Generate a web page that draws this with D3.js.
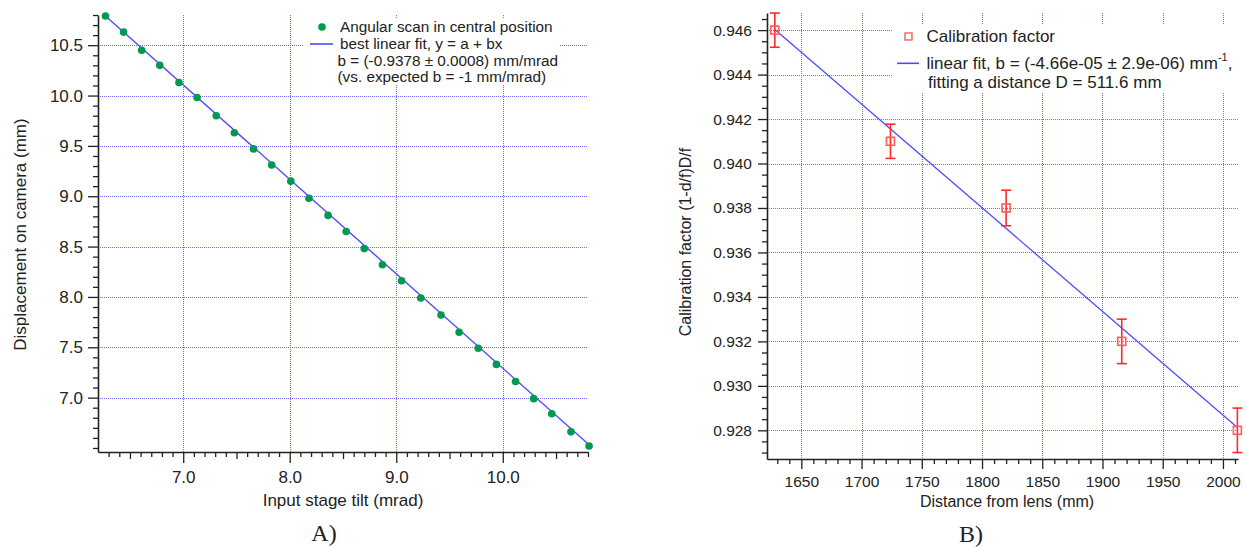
<!DOCTYPE html>
<html>
<head>
<meta charset="utf-8">
<script src="https://cdn.jsdelivr.net/npm/d3@7"></script>
<style>
  html, body { margin: 0; padding: 0; background: #fff; }
  svg { display: block; }
  text { font-family: "Liberation Sans", Arial, Helvetica, sans-serif; fill: #222; }
</style>
</head>
<body>
<svg id="chart" width="1246" height="548"></svg>
<script>
// ---------- Data: panel A ----------
const tiltX = [6.27, 6.44, 6.61, 6.78, 6.96, 7.13, 7.31, 7.48, 7.66, 7.83, 8.01, 8.18, 8.36, 8.53,
               8.70, 8.87, 9.05, 9.23, 9.42, 9.59, 9.77, 9.94, 10.12, 10.29, 10.46, 10.64, 10.81];
const displY = [10.79, 10.63, 10.45, 10.30, 10.13, 9.98, 9.80, 9.63, 9.47, 9.31, 9.15, 8.98, 8.81, 8.65,
                8.48, 8.32, 8.16, 7.99, 7.82, 7.65, 7.49, 7.33, 7.16, 6.99, 6.84, 6.66, 6.52];
const fitAa = 16.67, fitAb = -0.9378;
const aXTicks = [7.0, 8.0, 9.0, 10.0];
const aYTicks = [7.0, 7.5, 8.0, 8.5, 9.0, 9.5, 10.0, 10.5];
const aLegend = ["Angular scan in central position", "best linear fit, y = a + bx",
                 "b = (-0.9378 \u00b1 0.0008) mm/mrad", "(vs. expected b = -1 mm/mrad)"];

// ---------- Data: panel B ----------
const distX = [1628, 1724, 1820, 1916, 2012];
const calibY = [0.946, 0.941, 0.938, 0.932, 0.928];
const calibErr = [0.00077, 0.00077, 0.0008, 0.001, 0.001];
const fitBa = 1.02189, fitBb = -4.66e-5;
const bXTicks = [1650, 1700, 1750, 1800, 1850, 1900, 1950, 2000];
const bYTicks = [0.928, 0.930, 0.932, 0.934, 0.936, 0.938, 0.940, 0.942, 0.944, 0.946];

const svg = d3.select("#chart");
const gridColor = "#6f6fff";
const axisColor = "#222";

function styleAxis(g, fontSize) {
  g.select(".domain").attr("stroke", axisColor).attr("stroke-width", 1.6);
  g.selectAll(".tick line").attr("stroke", axisColor).attr("stroke-width", 1.3);
  g.selectAll(".tick text").style("font-size", fontSize + "px").style("font-family", '"Liberation Sans", Arial, sans-serif').attr("fill", "#222");
}
function gridLines(g, data, vertical, x, y, L, R, T, B) {
  g.append("g").attr("shape-rendering", "crispEdges").selectAll("line").data(data).join("line")
    .attr("x1", d => vertical ? Math.round(x(d)) + 0.5 : L)
    .attr("x2", d => vertical ? Math.round(x(d)) + 0.5 : R)
    .attr("y1", d => vertical ? T : Math.round(y(d)) + 0.5)
    .attr("y2", d => vertical ? B : Math.round(y(d)) + 0.5)
    .attr("stroke", gridColor).attr("stroke-width", 1).attr("stroke-dasharray", "1,1");
}

// ================= Panel A =================
{
  const L = 98, R = 588, T = 15, B = 452;
  const x = d3.scaleLinear().domain([6.2, 10.8]).range([L, R]);
  const y = d3.scaleLinear().domain([6.46, 10.8]).range([B, T]);
  const g = svg.append("g");

  gridLines(g, aXTicks, true, x, y, L, R, T, B);
  gridLines(g, aYTicks, false, x, y, L, R, T, B);

  // legend background
  g.append("rect").attr("x", 303).attr("y", 18).attr("width", 256).attr("height", 67).attr("fill", "#fff");

  // minor ticks
  const xMinor = d3.range(63, 109).map(v => v / 10).filter(v => !aXTicks.includes(v));
  const xMid = xMinor.filter(v => Math.abs(v * 10 % 10 - 5) < 1e-6);
  const xSmall = xMinor.filter(v => !xMid.includes(v));
  g.append("g").attr("transform", `translate(0,${B})`)
    .call(d3.axisBottom(x).tickValues(xSmall).tickSize(5).tickFormat(""))
    .call(a => { a.select(".domain").remove(); a.selectAll("line").attr("stroke", axisColor).attr("stroke-width", 1.3); });
  g.append("g").attr("transform", `translate(0,${B})`)
    .call(d3.axisBottom(x).tickValues(xMid).tickSize(7).tickFormat(""))
    .call(a => { a.select(".domain").remove(); a.selectAll("line").attr("stroke", axisColor).attr("stroke-width", 1.3); });
  const yMinor = d3.range(65, 109).map(v => v / 10).filter(v => !aYTicks.some(t => Math.abs(t - v) < 1e-6));
  g.append("g").attr("transform", `translate(${L},0)`)
    .call(d3.axisLeft(y).tickValues(yMinor).tickSize(5).tickFormat(""))
    .call(a => { a.select(".domain").remove(); a.selectAll("line").attr("stroke", axisColor).attr("stroke-width", 1.3); });

  // major axes
  g.append("g").attr("transform", `translate(0,${B})`)
    .call(d3.axisBottom(x).tickValues(aXTicks).tickSize(11).tickPadding(8).tickFormat(d3.format(".1f")).tickSizeOuter(0))
    .call(a => styleAxis(a, 17));
  g.append("g").attr("transform", `translate(${L},0)`)
    .call(d3.axisLeft(y).tickValues(aYTicks).tickSize(10).tickPadding(5).tickFormat(d3.format(".1f")).tickSizeOuter(0))
    .call(a => styleAxis(a, 17));

  // fit line
  const xs = d3.extent(tiltX);
  g.append("line")
    .attr("x1", x(xs[0])).attr("y1", y(fitAa + fitAb * xs[0]))
    .attr("x2", x(xs[1])).attr("y2", y(fitAa + fitAb * xs[1]))
    .attr("stroke", "#4d4dff").attr("stroke-width", 1.4);

  // points
  g.append("g").selectAll("circle").data(tiltX).join("circle")
    .attr("cx", d => x(d)).attr("cy", (d, i) => y(displY[i])).attr("r", 3.8)
    .attr("fill", "#00994d");

  // titles
  g.append("text").attr("x", (L + R) / 2).attr("y", 506).attr("text-anchor", "middle")
    .style("font-size", "17px").text("Input stage tilt (mrad)");
  g.append("text").attr("transform", `translate(26,${(T + B) / 2 + 1}) rotate(-90)`).attr("text-anchor", "middle")
    .style("font-size", "17px").text("Displacement on camera (mm)");

  // legend
  g.append("circle").attr("cx", 322).attr("cy", 27).attr("r", 3.8).attr("fill", "#00994d");
  g.append("line").attr("x1", 310).attr("x2", 333).attr("y1", 44).attr("y2", 44).attr("stroke", "#4d4dff").attr("stroke-width", 1.6);
  const lx = [340, 340, 337.5, 337.5], ly = [32, 48.6, 66, 82.4];
  aLegend.forEach((t, i) => {
    g.append("text").attr("x", lx[i]).attr("y", ly[i]).style("font-size", "15.3px").text(t);
  });

  // caption
  g.append("text").attr("x", 324).attr("y", 541).attr("text-anchor", "middle")
    .style("font-family", '"Liberation Serif", "DejaVu Serif", serif').style("font-size", "24px").text("A)");
}

// ================= Panel B =================
{
  const L = 767, R = 1238, T = 13, B = 459;
  const x = d3.scaleLinear().domain([1621.5, 2012.5]).range([L, R]);
  const y = d3.scaleLinear().domain([0.92671, 0.94677]).range([B, T]);
  const g = svg.append("g");

  gridLines(g, bXTicks, true, x, y, L, R, T, B);
  gridLines(g, bYTicks, false, x, y, L, R, T, B);

  g.append("rect").attr("x", 893).attr("y", 25).attr("width", 350).attr("height", 68).attr("fill", "#fff");

  const xMinor = d3.range(163, 202).map(v => v * 10).filter(v => !bXTicks.includes(v));
  g.append("g").attr("transform", `translate(0,${B})`)
    .call(d3.axisBottom(x).tickValues(xMinor).tickSize(5).tickFormat(""))
    .call(a => { a.select(".domain").remove(); a.selectAll("line").attr("stroke", axisColor).attr("stroke-width", 1.3); });
  const yMinor = d3.range(1854, 1894).map(v => v / 2000).filter(v => !bYTicks.some(t => Math.abs(t - v) < 1e-7));
  g.append("g").attr("transform", `translate(${L},0)`)
    .call(d3.axisLeft(y).tickValues(yMinor).tickSize(5).tickFormat(""))
    .call(a => { a.select(".domain").remove(); a.selectAll("line").attr("stroke", axisColor).attr("stroke-width", 1.3); });

  g.append("g").attr("transform", `translate(0,${B})`)
    .call(d3.axisBottom(x).tickValues(bXTicks).tickSize(10).tickPadding(7).tickFormat(d3.format("d")).tickSizeOuter(0))
    .call(a => styleAxis(a, 15.5));
  g.append("g").attr("transform", `translate(${L},0)`)
    .call(d3.axisLeft(y).tickValues(bYTicks).tickSize(9).tickPadding(6).tickFormat(d3.format(".3f")).tickSizeOuter(0))
    .call(a => styleAxis(a, 15.5));

  // fit line
  const xs = d3.extent(distX);
  g.append("line")
    .attr("x1", x(xs[0])).attr("y1", y(fitBa + fitBb * xs[0]))
    .attr("x2", x(xs[1])).attr("y2", y(fitBa + fitBb * xs[1]))
    .attr("stroke", "#4d4dff").attr("stroke-width", 1.3);

  // error bars
  const eb = g.append("g").attr("stroke", "#ff2a2a").attr("stroke-width", 1.6);
  distX.forEach((d, i) => {
    const cx = x(d), y1 = y(calibY[i] + calibErr[i]), y2 = y(calibY[i] - calibErr[i]);
    eb.append("line").attr("x1", cx).attr("x2", cx).attr("y1", y1).attr("y2", y2);
    eb.append("line").attr("x1", cx - 5).attr("x2", cx + 5).attr("y1", y1).attr("y2", y1);
    eb.append("line").attr("x1", cx - 5).attr("x2", cx + 5).attr("y1", y2).attr("y2", y2);
  });
  // markers
  g.append("g").selectAll("rect").data(distX).join("rect")
    .attr("x", d => x(d) - 4).attr("y", (d, i) => y(calibY[i]) - 4)
    .attr("width", 8).attr("height", 8)
    .attr("fill", "none").attr("stroke", "#ff5c5c").attr("stroke-width", 1.6);

  // titles
  g.append("text").attr("x", 1007).attr("y", 507).attr("text-anchor", "middle")
    .style("font-size", "16px").text("Distance from lens (mm)");
  g.append("text").attr("transform", `translate(691,${242}) rotate(-90)`).attr("text-anchor", "middle")
    .style("font-size", "16px").text("Calibration factor (1-d/f)D/f");

  // legend
  g.append("rect").attr("x", 905).attr("y", 33).attr("width", 7).attr("height", 7)
    .attr("fill", "none").attr("stroke", "#ff5c5c").attr("stroke-width", 1.4);
  g.append("line").attr("x1", 897).attr("x2", 919).attr("y1", 63.3).attr("y2", 63.3).attr("stroke", "#4d4dff").attr("stroke-width", 1.6);
  g.append("text").attr("x", 926.5).attr("y", 42).style("font-size", "17px").text("Calibration factor");
  const t2 = g.append("text").attr("x", 926.5).attr("y", 69).style("font-size", "17px");
  t2.append("tspan").text("linear fit, b = (-4.66e-05 \u00b1 2.9e-06) mm");
  t2.append("tspan").attr("dy", -8).style("font-size", "11px").text("-1");
  t2.append("tspan").attr("dy", 8).text(",");
  g.append("text").attr("x", 928).attr("y", 87.5).style("font-size", "17px").text("fitting a distance D = 511.6 mm");

  g.append("text").attr("x", 971).attr("y", 542).attr("text-anchor", "middle")
    .style("font-family", '"Liberation Serif", "DejaVu Serif", serif').style("font-size", "24px").text("B)");
}
</script>
</body>
</html>
